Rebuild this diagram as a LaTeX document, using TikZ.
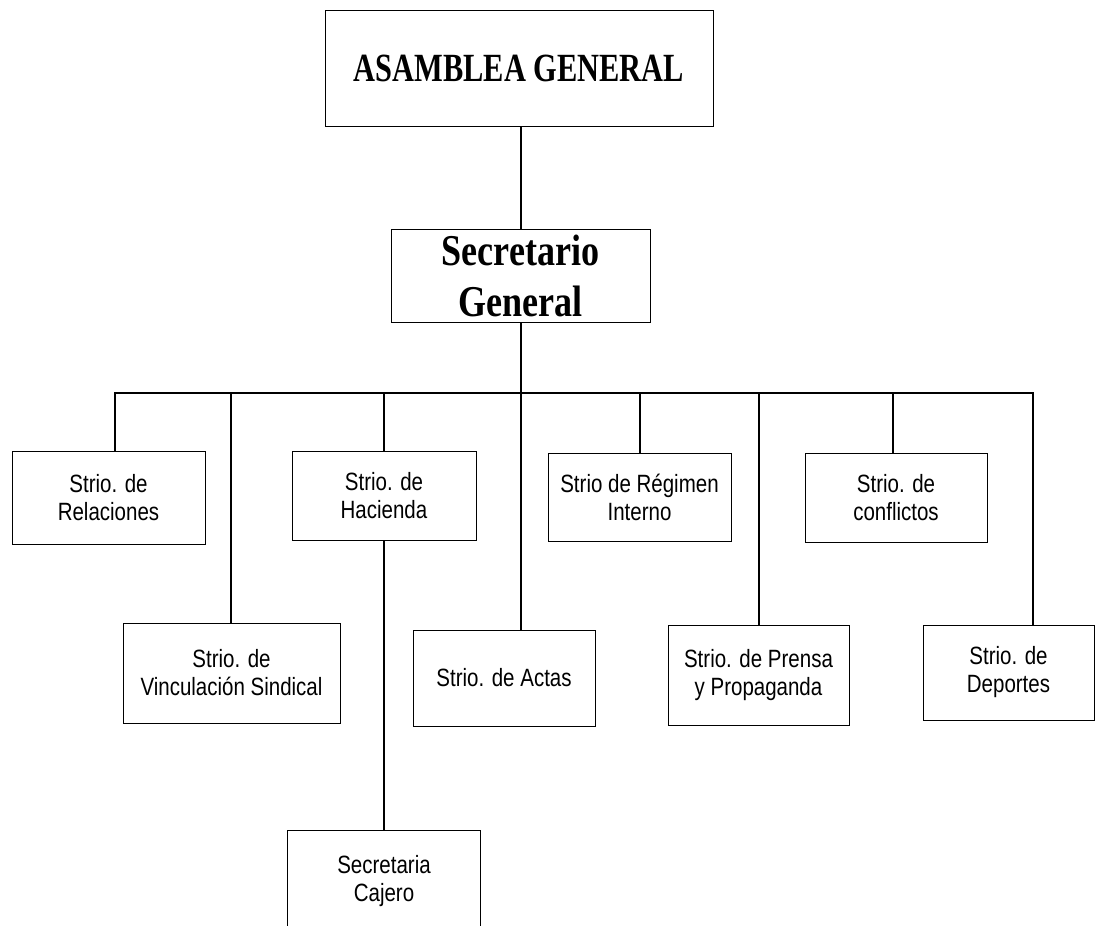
\documentclass[tikz,border=0pt]{standalone}
\usepackage{fontspec}
\setmainfont{Liberation Serif}
\newfontfamily\arialf[FakeStretch=0.82]{Liberation Sans}
\newfontfamily\sgfont[FakeStretch=0.82]{Liberation Serif}
\newfontfamily\asmfont[FakeStretch=0.76]{Liberation Serif}
\begin{document}
\begin{tikzpicture}[x=1pt,y=-1pt,
  box/.style={draw, line width=0.9pt, inner sep=0pt, align=center,
     font=\arialf\fontsize{25}{28}\selectfont},
  conn/.style={line width=1.5pt}]
\useasboundingbox (0,0) rectangle (1096,926);
% top boxes
\node[draw, line width=0.9pt, minimum width=388pt, minimum height=116pt, inner sep=0pt,
  font=\asmfont\bfseries\fontsize{40}{44}\selectfont] (asm) at (519,68) {ASAMBLEA GENERAL};
\node[draw, line width=0.9pt, minimum width=259pt, minimum height=93pt, inner sep=0pt, align=center,
  font=\sgfont\bfseries\fontsize{44}{51}\selectfont] (sg) at (520.5,275.5) {Secretario\\General};
% first row
\node[box, minimum width=193pt, minimum height=93pt] (rel) at (108.5,497.5) {Strio. de\\Relaciones};
\node[box, minimum width=184pt, minimum height=89pt] (hac) at (384,495.5) {Strio. de\\Hacienda};
\node[box, minimum width=183pt, minimum height=88pt] (reg) at (639.5,497) {Strio de R\'egimen\\Interno};
\node[box, minimum width=182pt, minimum height=89pt] (con) at (896,497.5) {Strio. de\\conflictos};
% second row
\node[box, minimum width=217pt, minimum height=100pt] (vin) at (231.5,673) {Strio. de\\Vinculaci\'on Sindical};
\node[box, minimum width=182pt, minimum height=96pt] (act) at (504,678) {Strio. de Actas};
\node[box, minimum width=181pt, minimum height=100pt] (pre) at (758.5,675) {Strio. de Prensa\\y Propaganda};
\node[box, minimum width=171pt, minimum height=95pt] (dep) at (1008.5,672.5) {Strio. de\\Deportes};
% cajero (bottom cut off)
\node[box, draw=none, minimum width=192pt, minimum height=100pt] (caj) at (384,881) {Secretaria\\Cajero};
\draw[line width=0.9pt] (caj.south west) -- (caj.north west) -- (caj.north east) -- (caj.south east);
% connectors
\coordinate (tr) at (521,393);
\coordinate (b1) at (115,393);
\coordinate (b2) at (231,393);
\coordinate (b3) at (384,393);
\coordinate (b5) at (640,393);
\coordinate (b6) at (759,393);
\coordinate (b7) at (893,393);
\coordinate (b8) at (1033,393);
\draw[conn] (tr |- asm.south) -- (tr |- sg.north);
\draw[conn] (tr |- sg.south) -- (tr |- act.north);
\draw[conn] (b1 |- rel.north) -- (b1) -- (b8) -- (b8 |- dep.north);
\draw[conn] (b2) -- (b2 |- vin.north);
\draw[conn] (b3) -- (b3 |- hac.north);
\draw[conn] (b5) -- (b5 |- reg.north);
\draw[conn] (b6) -- (b6 |- pre.north);
\draw[conn] (b7) -- (b7 |- con.north);
\draw[conn] (hac.south) -- (caj.north);
\end{tikzpicture}
\end{document}
